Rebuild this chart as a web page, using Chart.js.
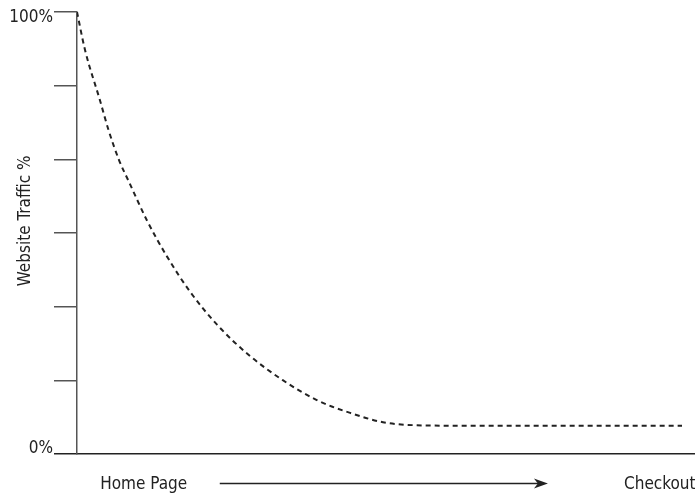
<!DOCTYPE html>
<html lang="en">
<head>
  <meta charset="UTF-8">
  <title>Website Traffic Funnel</title>
  <script src="https://cdn.jsdelivr.net/npm/chart.js"></script>
  <style>
    html, body { margin: 0; padding: 0; background: white; }
    #wrap { width: 695px; height: 496px; }
  </style>
</head>
<body>
  <div id="wrap"><canvas id="funnel"></canvas></div>

  <script>
    // journey progress (0 = home page, 100 = checkout) vs % of traffic remaining
    const progress = [0, 1.3, 3.7, 5.1, 6.8, 8.4, 11.3, 14.6, 18.3, 22.7, 27.8, 33.3, 38.8, 44.2, 49.5, 55.0, 62.0, 97.9];
    const traffic  = [100, 91.4, 80.1, 73.3, 66.5, 61.6, 52.9, 44.6, 36.7, 29.2, 22.4, 16.7, 12.2, 9.3, 7.2, 6.5, 6.4, 6.4];

    const yTicks = [0, 100 / 6, 200 / 6, 50, 400 / 6, 500 / 6, 100];
    const yLabels = { 0: '0%', 100: '100%' };
    const xTicks = [10.8, 94.3];
    const xLabels = ['Home Page', 'Checkout'];

    const font = { family: "'DejaVu Sans Condensed', 'Liberation Sans Narrow', sans-serif", size: 17 };

    // arrow between the two stage labels
    const arrowPlugin = {
      id: 'stageArrow',
      afterDraw(chart) {
        const x = chart.scales.x;
        const c = chart.ctx;
        const x0 = x.getPixelForValue(23.1), x1 = x.getPixelForValue(76.2);
        const y = 483.5;
        c.save();
        c.strokeStyle = '#222';
        c.fillStyle = '#222';
        c.lineWidth = 1.5;
        c.beginPath();
        c.moveTo(x0, y);
        c.lineTo(x1 - 8, y);
        c.stroke();
        c.beginPath();
        c.moveTo(x1, y);
        c.lineTo(x1 - 14, y - 5);
        c.lineTo(x1 - 10, y);
        c.lineTo(x1 - 14, y + 5);
        c.closePath();
        c.fill();
        c.restore();
      }
    };

    new Chart(document.getElementById('funnel'), {
      type: 'line',
      data: {
        datasets: [{
          data: progress.map((p, i) => ({ x: p, y: traffic[i] })),
          borderColor: '#222',
          borderWidth: 2,
          borderDash: [5, 4],
          pointRadius: 0,
          cubicInterpolationMode: 'monotone',
          fill: false
        }]
      },
      options: {
        responsive: true,
        maintainAspectRatio: false,
        animation: false,
        layout: { padding: { top: 12, right: 0, left: 0, bottom: 0 } },
        plugins: { legend: { display: false }, tooltip: { enabled: false } },
        scales: {
          x: {
            type: 'linear',
            min: 0,
            max: 100,
            afterBuildTicks: axis => { axis.ticks = xTicks.map(v => ({ value: v })); },
            afterFit: axis => { axis.height = 42; axis.paddingLeft = 0; axis.paddingRight = 0; },
            grid: { display: false, drawTicks: false, tickLength: 0 },
            border: { display: true, color: '#222', width: 1.5 },
            ticks: {
              color: '#222',
              font,
              padding: 20,
              maxRotation: 0,
              autoSkip: false,
              callback: (v, i) => xLabels[i]
            }
          },
          y: {
            min: 0,
            max: 100,
            afterBuildTicks: axis => { axis.ticks = yTicks.map(v => ({ value: v })); },
            afterFit: axis => { axis.width = 77; },
            grid: {
              drawOnChartArea: false,
              drawTicks: true,
              tickLength: 23,
              lineWidth: 1.5,
              color: ctx => ctx.tick && ctx.tick.value === 0 ? '#222' : '#555'
            },
            border: { display: true, color: '#555', width: 1.5 },
            ticks: {
              color: '#222',
              font: { ...font, lineHeight: 0.6 },
              padding: 1,
              autoSkip: false,
              callback: v => {
                if (v === 100) return ['', yLabels[100]];
                if (v === 0) return [yLabels[0], ''];
                return '';
              }
            },
            title: {
              display: true,
              text: '     Website Traffic %',
              color: '#222',
              font,
              padding: { top: 15, bottom: 0 }
            }
          }
        }
      },
      plugins: [arrowPlugin]
    });
  </script>
</body>
</html>
